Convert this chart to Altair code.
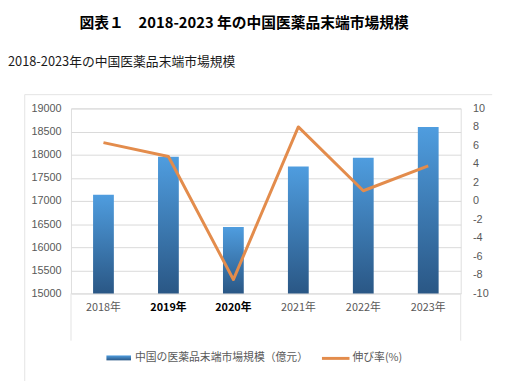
import json
import altair as alt
import pandas as pd

# ---- data ----
years = ["2018年", "2019年", "2020年", "2021年", "2022年", "2023年"]
market = [17131, 17955, 16437, 17747, 17936, 18600]
growth = [6.3, 4.8, -8.5, 8.0, 1.1, 3.8]
left_ticks = list(range(15000, 19001, 500))
right_ticks = list(range(-10, 11, 2))
bold_years = ["2019年", "2020年"]
title_main = "図表１　2018-2023 年の中国医薬品末端市場規模"
title_sub = "2018-2023年の中国医薬品末端市場規模"
legend_bar = "中国の医薬品末端市場規模（億元）"
legend_line = "伸び率(%)"

df = pd.DataFrame({"year": years, "market": market, "growth": growth})
one = pd.DataFrame({"k": [0]})

W, H = 396, 188
CJK = "Noto Sans CJK JP"
NUM = "Liberation Sans"
GRAY = "#595959"
ORANGE = "#E38C4C"
grad = alt.Gradient(
    gradient="linear",
    stops=[alt.GradientStop(color="#4f9ddf", offset=0),
           alt.GradientStop(color="#2a5785", offset=1)],
    x1=0, x2=0, y1=0, y2=1,
)

bold_test = "indexof(" + json.dumps(bold_years, ensure_ascii=False) + ", datum.value) >= 0"

x = alt.X(
    "year:N", sort=years,
    scale=alt.Scale(paddingInner=0.68, paddingOuter=0.34),
    axis=alt.Axis(
        title=None, labelAngle=0, domain=False, ticks=False, labelPadding=8,
        labelFont=CJK, labelFontSize=11,
        labelColor=alt.condition(bold_test, alt.value("#000000"), alt.value(GRAY)),
        labelFontWeight=alt.condition(bold_test, alt.value("bold"), alt.value("normal")),
    ),
)

bars = alt.Chart(df).mark_bar(fill=grad).encode(
    x=x,
    y=alt.Y("market:Q",
            scale=alt.Scale(domain=[15000, 19000], zero=False, nice=False),
            axis=alt.Axis(orient="left", title=None, values=left_ticks, domain=False,
                          ticks=False, labelPadding=10, labelFont=NUM, labelFontSize=11,
                          labelColor=GRAY, grid=True, gridColor="#d9d9d9",
                          labelExpr="'' + datum.value")),
    y2=alt.datum(15000),
)

line = alt.Chart(df).mark_line(color=ORANGE, strokeWidth=3, strokeJoin="round").encode(
    x=x,
    y=alt.Y("growth:Q",
            scale=alt.Scale(domain=[-10, 10], nice=False),
            axis=alt.Axis(orient="right", title=None, values=right_ticks, domain=False,
                          ticks=False, labelPadding=12, labelFont=NUM, labelFontSize=11,
                          labelColor=GRAY, grid=False,
                          labelExpr="'' + datum.value")),
)

def txt(s, xv, yv, size, weight="normal", align="left", color="#000000"):
    return alt.Chart(pd.DataFrame({"t": [s]})).mark_text(
        font=CJK, fontSize=size, fontWeight=weight, align=align, baseline="middle", color=color
    ).encode(text="t:N", x=alt.value(xv), y=alt.value(yv))

def rule(**kw):
    return alt.Chart(one).mark_rule(color="#e3e3e3", strokeWidth=1).encode(
        **{k: alt.value(v) for k, v in kw.items()})

frame_top = rule(x=-47, x2=428, y=-14)
frame_left = rule(x=-47, y=-14, y2=300)
box_left = rule(x=0, y=H, y2=236)
box_right = rule(x=W, y=H, y2=236)

t1 = txt(title_main, 176, -87, 15, weight="bold", align="center")
t2 = txt(title_sub, -64, -47, 13, color="#1a1a1a")

leg_rect = alt.Chart(one).mark_rect(fill=grad).encode(
    x=alt.value(36), x2=alt.value(61), y=alt.value(251), y2=alt.value(256))
leg_t1 = txt(legend_bar, 65, 254, 11, color=GRAY)
leg_line = alt.Chart(one).mark_rule(color=ORANGE, strokeWidth=3).encode(
    x=alt.value(255), x2=alt.value(283), y=alt.value(254))
leg_t2 = txt(legend_line, 286, 254, 11, color=GRAY)

chart = alt.layer(
    frame_top, frame_left, box_left, box_right,
    bars, line,
    t1, t2, leg_rect, leg_t1, leg_line, leg_t2,
).resolve_scale(y="independent").properties(
    width=W, height=H,
    autosize=alt.AutoSizeParams(type="none"),
    padding={"left": 64, "top": 99, "right": 45, "bottom": 90},
).configure_view(stroke=None).configure(background="white")

chart.save("out.html", embed_options={"renderer": "svg", "actions": False})
